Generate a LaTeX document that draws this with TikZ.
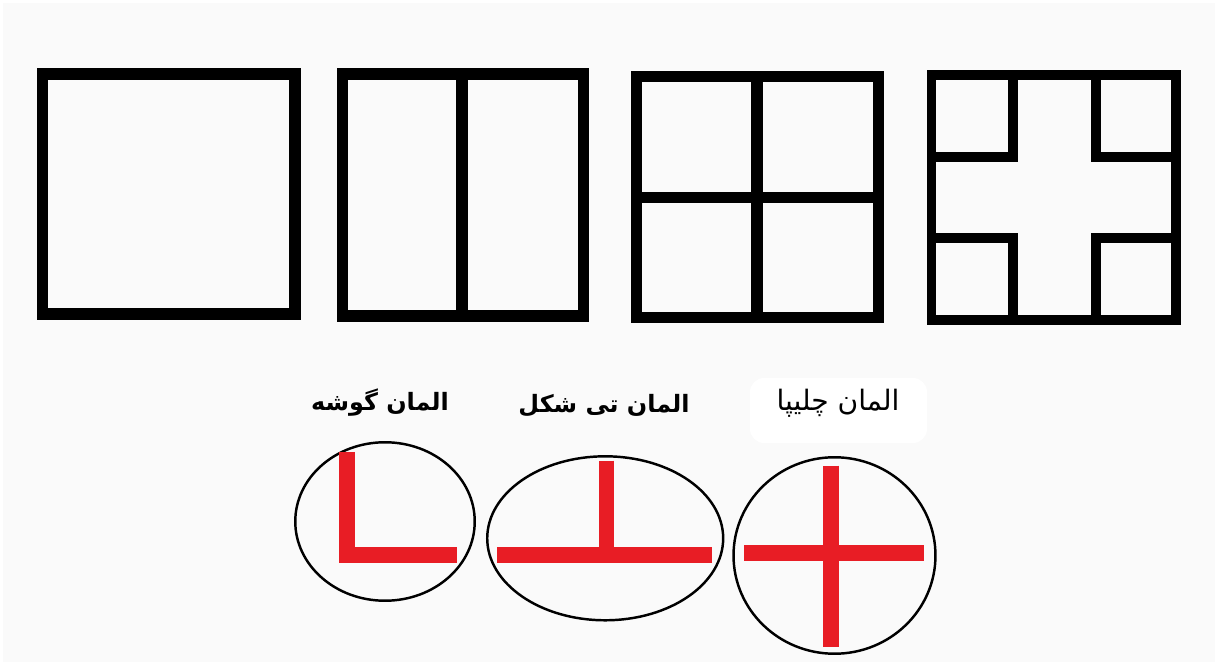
\documentclass[tikz,border=0pt]{standalone}
\usepackage{fontspec}
\usepackage{tikz}
\usetikzlibrary{shapes.geometric, positioning}
\TeXXeTstate=1
\newfontfamily\arabicfont[Script=Arabic]{DejaVu Sans}
\definecolor{cBack}{RGB}{250,250,250}
\definecolor{cJoint}{RGB}{232,29,37}
\tikzset{
	frame/.style ={draw=black, line width=6.8pt, line join=miter},
	thinframe/.style={frame, line width=5.4pt},
	ring/.style  ={ellipse, draw=black, line width=1.4pt, inner sep=0pt},
	joint/.style ={draw=cJoint, line width=9pt, line join=miter},
	lbl/.style   ={anchor=base, inner sep=0pt, font=\fontsize{16}{19}\selectfont\arabicfont},
	boldlbl/.style={lbl, font=\fontsize{13.6}{17}\selectfont\arabicfont\bfseries},
}
\begin{document}
\begin{tikzpicture}[x=0.02cm, y=-0.02cm]
	\fill[white] (0,0) rectangle (1215,662);
	\fill[cBack] (3,3) rectangle (1215,662);
	\useasboundingbox (0,0) rectangle (1215,662);
	% plain frame
	\draw[frame] (42.5,74) rectangle (295,314);
	% frame split in two
	\draw[frame] (342.5,74) rectangle (583.5,315.7);
	\draw[frame] (462,74) -- (462,315.7);
	% frame split in four
	\draw[frame, line width=6.3pt] (636.5,76.2) rectangle (878.7,317.8);
	\draw[frame, line width=6.3pt] (757,76.2) -- (757,317.8) (636.5,197.7) -- (878.7,197.7);
	% frame with cross opening
	\draw[thinframe] (931.5,74.8) rectangle (1176.2,320.2);
	\draw[thinframe] (1013,74.8) -- (1013,157) -- (931.5,157);
	\draw[thinframe] (1096,74.8) -- (1096,157) -- (1176.2,157);
	\draw[thinframe] (931.5,238) -- (1013,238) -- (1013,320.2);
	\draw[thinframe] (1176.2,238) -- (1096,238) -- (1096,320.2);
	% labels
	\fill[white, rounded corners=8pt] (750,378) rectangle (927,443);
	\node[boldlbl] (lblCorner) at (380,411) {\beginR المان گوشه\endR};
	\node[boldlbl] (lblTee) at (604,413) {\beginR المان تی شکل\endR};
	\node[lbl] (lblCross) at (838,411) {\beginR المان چلیپا\endR};
	% joint elements
	\node[ring, minimum width=3.59cm, minimum height=3.17cm] (ringCorner) at (385,521.5) {};
	\node[ring, minimum width=4.72cm, minimum height=3.28cm] (ringTee) at (605.2,538.3) {};
	\node[ring, minimum width=4.04cm, minimum height=3.93cm] (ringCross) at (834.5,555.5) {};
	\draw[joint] (347,452) -- (347,554.7) -- (457.3,554.7);
	\draw[joint] (497.3,554.7) -- (711.7,554.7);
	\draw[joint] (606.5,460.7) -- (606.5,554.7);
	\draw[joint] (744,553.3) -- (924.3,553.3);
	\draw[joint] (831.3,465.7) -- (831.3,647.3);
\end{tikzpicture}
\end{document}
